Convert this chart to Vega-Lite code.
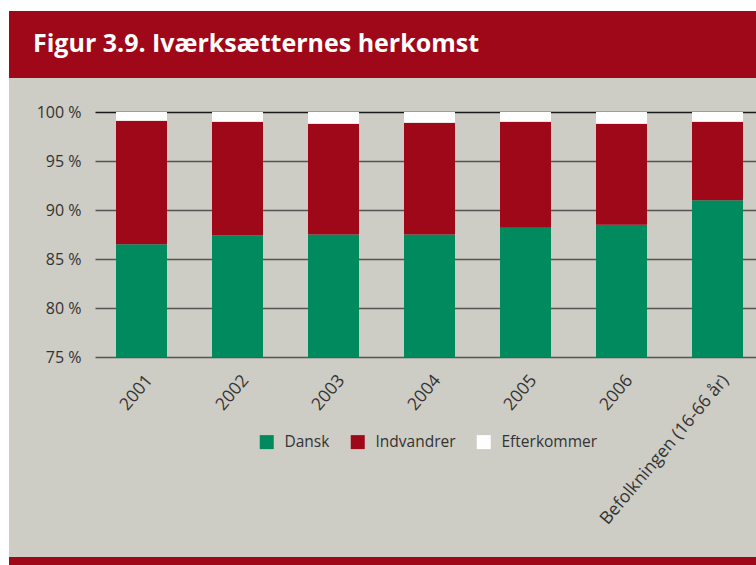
{
  "$schema": "https://vega.github.io/schema/vega-lite/v6.json",
  "background": "white",
  "padding": {"left": 9, "top": 11, "right": 0, "bottom": 0},
  "spacing": 0,
  "config": {"font": "Open Sans", "view": {"stroke": null}},
  "vconcat": [
    {
      "width": 747,
      "height": 67,
      "view": {"fill": "#9e0818", "stroke": null},
      "data": {"values": []},
      "mark": "point",
      "title": {
        "text": "Figur 3.9. Iværksætternes herkomst",
        "orient": "top",
        "anchor": "start",
        "frame": "group",
        "offset": -66,
        "dx": 24,
        "baseline": "alphabetic",
        "fontSize": 25,
        "fontWeight": "bold",
        "font": "Open Sans",
        "color": "#ffffff"
      }
    },
    {
      "width": 747,
      "height": 479,
      "view": {"fill": "#cdccc5", "stroke": null},
      "data": {
        "values": [
          {"cat": "2001", "origin": "Dansk", "pct": 86.5},
          {"cat": "2001", "origin": "Indvandrer", "pct": 12.6},
          {"cat": "2001", "origin": "Efterkommer", "pct": 0.9},
          {"cat": "2002", "origin": "Dansk", "pct": 87.4},
          {"cat": "2002", "origin": "Indvandrer", "pct": 11.6},
          {"cat": "2002", "origin": "Efterkommer", "pct": 1.0},
          {"cat": "2003", "origin": "Dansk", "pct": 87.5},
          {"cat": "2003", "origin": "Indvandrer", "pct": 11.3},
          {"cat": "2003", "origin": "Efterkommer", "pct": 1.2},
          {"cat": "2004", "origin": "Dansk", "pct": 87.5},
          {"cat": "2004", "origin": "Indvandrer", "pct": 11.4},
          {"cat": "2004", "origin": "Efterkommer", "pct": 1.1},
          {"cat": "2005", "origin": "Dansk", "pct": 88.2},
          {"cat": "2005", "origin": "Indvandrer", "pct": 10.8},
          {"cat": "2005", "origin": "Efterkommer", "pct": 1.0},
          {"cat": "2006", "origin": "Dansk", "pct": 88.5},
          {"cat": "2006", "origin": "Indvandrer", "pct": 10.3},
          {"cat": "2006", "origin": "Efterkommer", "pct": 1.2},
          {"cat": "Befolkningen (16-66 år)", "origin": "Dansk", "pct": 91.0},
          {"cat": "Befolkningen (16-66 år)", "origin": "Indvandrer", "pct": 8.0},
          {"cat": "Befolkningen (16-66 år)", "origin": "Efterkommer", "pct": 1.0}
        ]
      },
      "mark": {"type": "bar"},
      "encoding": {
        "x": {
          "field": "cat",
          "type": "nominal",
          "sort": null,
          "scale": {"range": [86, 747], "paddingInner": 0.46875, "paddingOuter": 0.177, "align": 0.618},
          "axis": {
            "title": null,
            "orient": "bottom",
            "offset": -200,
            "domain": false,
            "ticks": false,
            "grid": false,
            "labelAngle": -50,
            "labelAlign": "right",
            "labelBaseline": "middle",
            "labelPadding": 20,
            "labelOffset": 8,
            "labelFontSize": 17.5,
            "labelColor": "#333333",
            "labelLimit": 400
          }
        },
        "y": {
          "field": "pct",
          "type": "quantitative",
          "stack": "zero",
          "scale": {"domain": [75, 100], "range": [279, 34], "clamp": true, "nice": false, "zero": false},
          "axis": {
            "title": null,
            "orient": "left",
            "offset": -86,
            "values": [75, 80, 85, 90, 95, 100],
            "labelExpr": "datum.value + ' %'",
            "domain": false,
            "ticks": false,
            "grid": true,
            "gridColor": {"condition": {"test": "datum.value === 100", "value": "#1a1a1a"}, "value": "#555555"},
            "gridWidth": 1.4,
            "labelPadding": 14,
            "labelFontSize": 16,
            "labelColor": "#333333"
          }
        },
        "order": {"field": "pct", "type": "quantitative", "sort": "descending"},
        "color": {
          "field": "origin",
          "type": "nominal",
          "scale": {"domain": ["Dansk", "Indvandrer", "Efterkommer"], "range": ["#008a5e", "#9e0818", "#ffffff"]},
          "legend": {
            "title": null,
            "orient": "none",
            "legendX": 250,
            "legendY": 423,
            "direction": "horizontal",
            "symbolType": "square",
            "symbolSize": 196,
            "symbolStrokeWidth": 0,
            "symbolOpacity": 1,
            "labelFontSize": 15.5,
            "labelColor": "#333333",
            "labelOffset": 10,
            "columnPadding": 20
          }
        }
      }
    },
    {
      "width": 747,
      "height": 8,
      "view": {"fill": "#9e0818", "stroke": null},
      "data": {"values": []},
      "mark": "point"
    }
  ]
}
